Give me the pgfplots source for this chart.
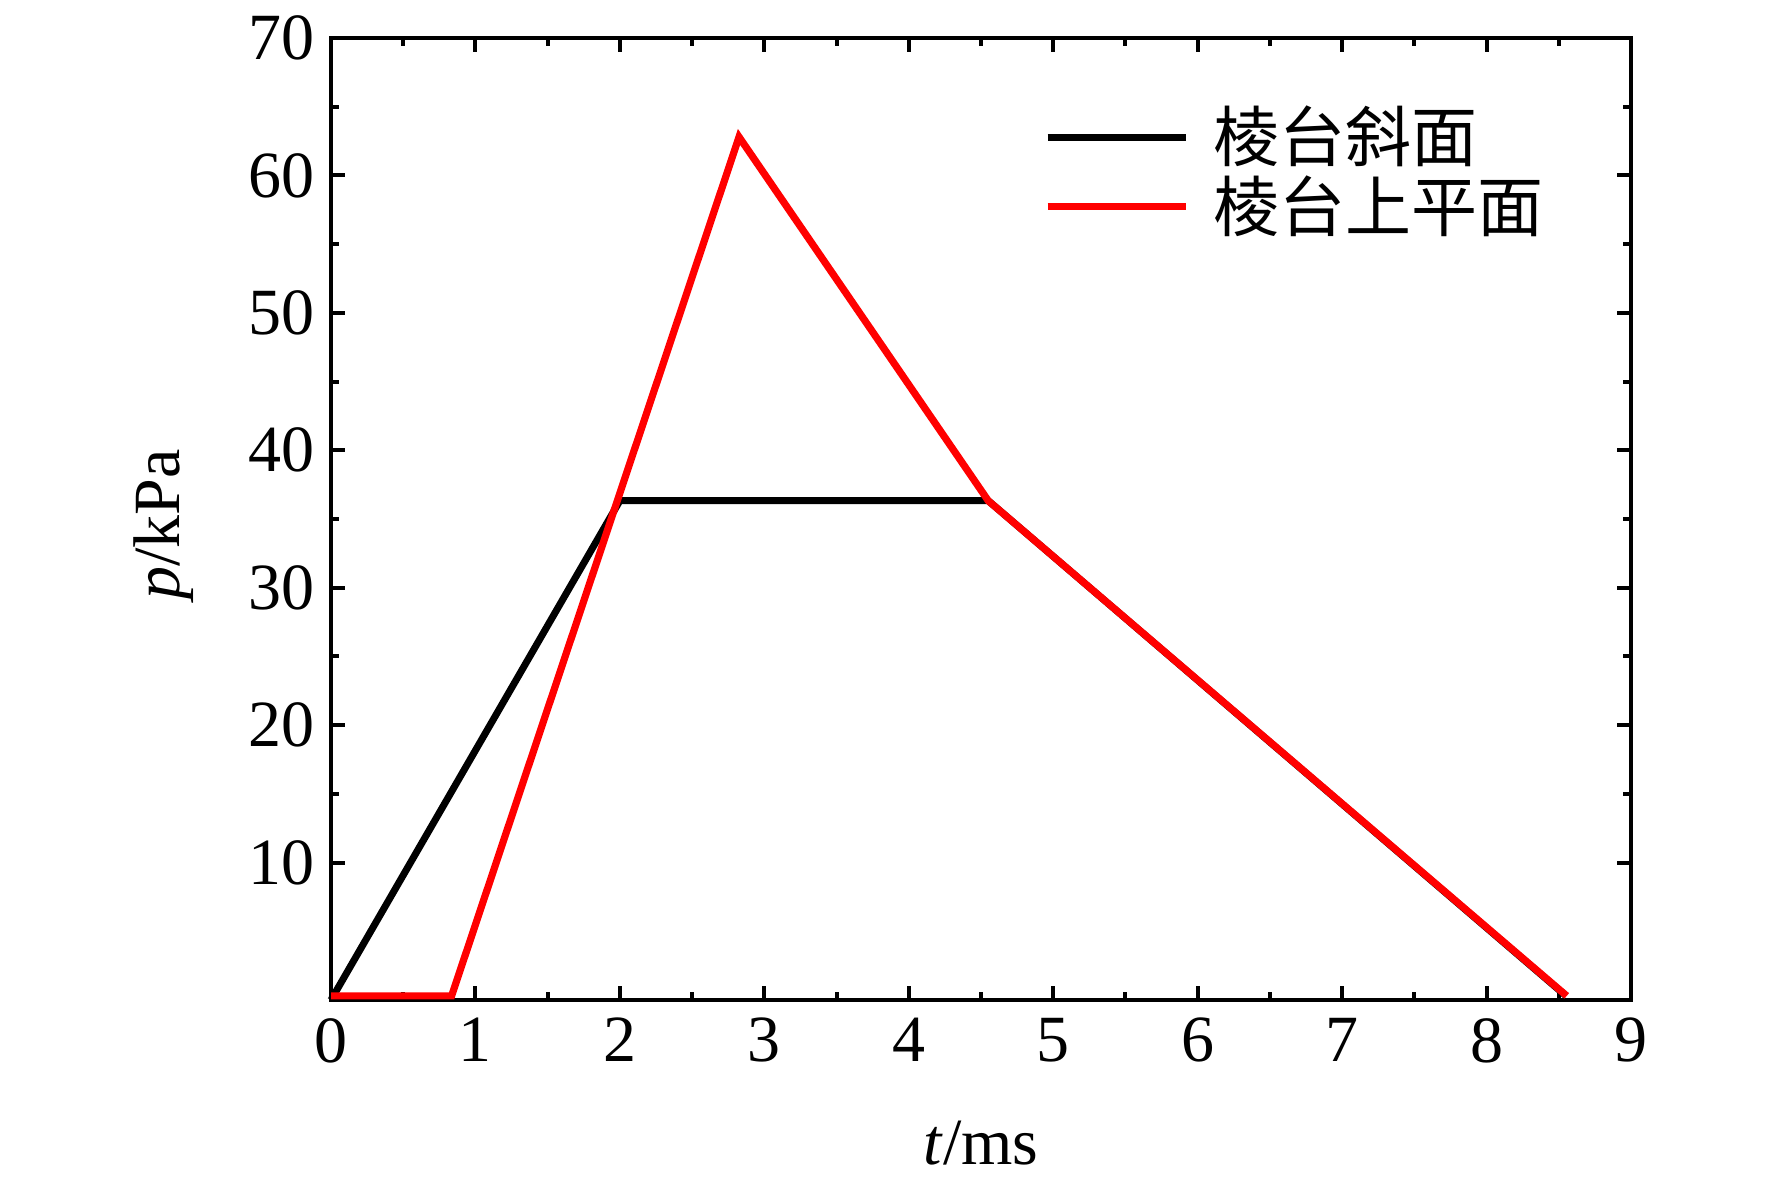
\documentclass[border=0pt]{standalone}
\usepackage{pgfplots}
\pgfplotsset{compat=1.18}
\usepackage{fontspec}
\setmainfont{Liberation Serif}
\newfontfamily\cjk{Noto Sans CJK SC}
\begin{document}
\begin{tikzpicture}
\path[use as bounding box] (-82.75pt,-46.5pt) rectangle (360.25pt,250pt);
\begin{axis}[
  at={(0pt,0pt)}, anchor=south west,
  scale only axis, width=325pt, height=240.5pt,
  xmin=0, xmax=9, ymin=0, ymax=70,
  xtick={0,1,...,9}, ytick={10,20,...,70},
  minor x tick num=1, minor y tick num=1,
  tick align=inside,
  major tick length=3.4pt, minor tick length=2.1pt,
  axis line style={line width=1.2pt},
  every tick/.style={black, line width=1pt},
  /pgf/number format/assume math mode=true,
  tick label style={font=\fontsize{16.5}{19}\selectfont},
  xticklabel style={yshift=-1pt},
  yticklabel style={xshift=-0.5pt},
  xlabel={\textit{t}/ms}, ylabel={\textit{p}/kPa},
  every axis x label/.style={at={(axis description cs:0.5,-0.1715)}, anchor=base, font=\fontsize{16.5}{19}\selectfont},
  every axis y label/.style={at={(axis description cs:-0.1162,0.494)}, rotate=90, anchor=base, font=\fontsize{16.5}{19}\selectfont},
  clip=false,
  legend style={draw=none, fill=none, at={(axis description cs:0.5386,0.9466)}, anchor=north west,
    font=\cjk\fontsize{16.5}{19}\selectfont, row sep=-2pt, column sep=4pt,
    nodes={inner sep=2pt}},
  legend cell align=left,
  legend image code/.code={\draw[#1] (0pt,0pt) -- (34.5pt,0pt);},
]
\addplot[black, line width=1.75pt] coordinates {(0,0) (2.0,36.33) (4.55,36.33) (8.55,0.3)};
\addlegendentry{棱台斜面}
\addplot[red, line width=1.8pt] coordinates {(0,0.3) (0.835,0.3) (2.825,62.8) (4.55,36.33) (8.555,0.3)};
\addlegendentry{棱台上平面}
\end{axis}
\end{tikzpicture}
\end{document}
